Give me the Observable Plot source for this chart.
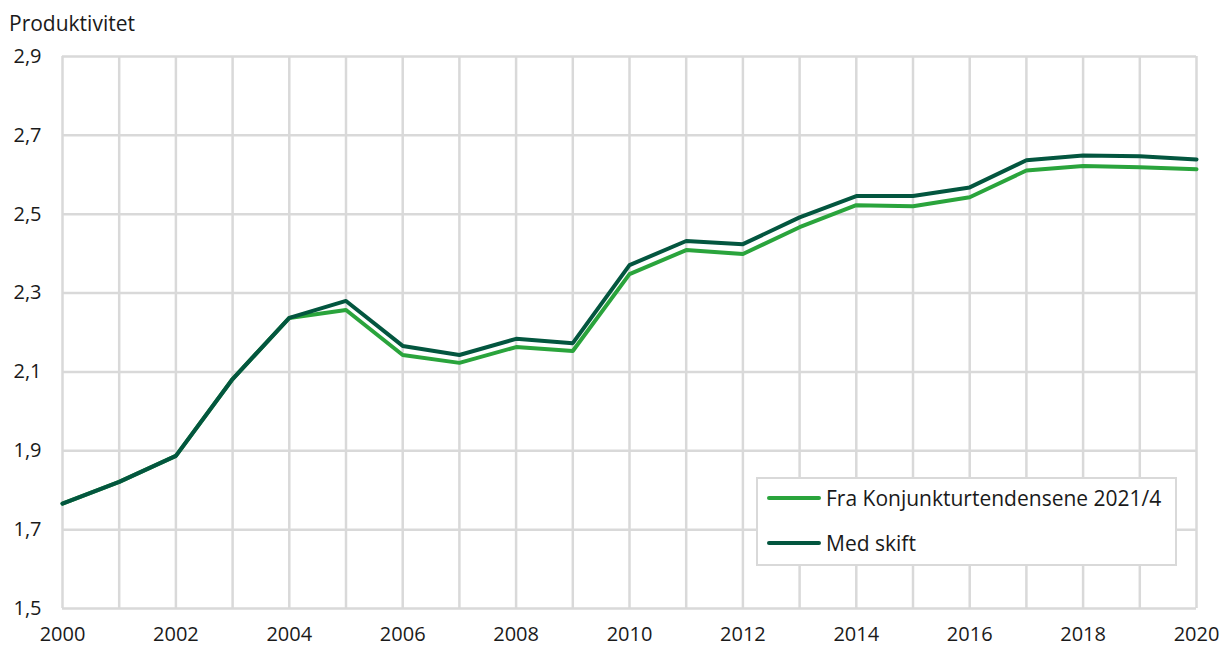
<!DOCTYPE html>
<html>
<head>
<meta charset="utf-8">
<script src="https://cdn.jsdelivr.net/npm/d3@7"></script>
<script src="https://cdn.jsdelivr.net/npm/@observablehq/plot@0.6"></script>
<style>
  body { margin: 0; background: #fff; font-family: "Open Sans", sans-serif; }
  #wrap { position: relative; width: 1223px; height: 651px; }
  #title { position: absolute; left: 9px; top: 9px; font-size: 21px; color: #1a1a1a; line-height: 28px; }
  #chart { position: absolute; left: 0; top: 40px; }
  #legend { position: absolute; left: 756px; top: 477px; width: 421px; height: 89px;
            border: 2px solid #d9d9d9; background: #fff; box-sizing: border-box; font-size: 21px; color: #1a1a1a; }
  .item { position: absolute; left: 9px; display: flex; align-items: center; height: 28px; }
  .sw { width: 54px; height: 4px; border-radius: 2px; margin-right: 5px; }
</style>
</head>
<body>
<div id="wrap">
  <div id="title">Produktivitet</div>
  <div id="chart"></div>
  <div id="legend">
    <div class="item" style="top:5px"><div class="sw" style="background:#2aa43c"></div><span>Fra Konjunkturtendensene 2021/4</span></div>
    <div class="item" style="top:50px"><div class="sw" style="background:#03563f"></div><span>Med skift</span></div>
  </div>
</div>
<script>
const years = d3.range(2000, 2021);
const fraKonjunktur = [1.766, 1.821, 1.887, 2.082, 2.237, 2.257, 2.143, 2.123, 2.163, 2.153, 2.348, 2.409, 2.399, 2.467, 2.523, 2.520, 2.543, 2.611, 2.622, 2.619, 2.614];
const medSkift      = [1.766, 1.821, 1.887, 2.082, 2.237, 2.280, 2.166, 2.143, 2.184, 2.173, 2.371, 2.432, 2.424, 2.492, 2.546, 2.546, 2.568, 2.637, 2.649, 2.647, 2.639];
const yTicks = [1.5, 1.7, 1.9, 2.1, 2.3, 2.5, 2.7, 2.9];
const xTicks = d3.range(2000, 2021, 2);

const dataA = years.map((y, i) => ({year: y, value: fraKonjunktur[i]}));
const dataB = years.map((y, i) => ({year: y, value: medSkift[i]}));

const fmt = d => d.toFixed(1).replace(".", ",");

const chart = Plot.plot({
  width: 1223,
  height: 611,
  marginLeft: 62,
  marginRight: 27,
  marginTop: 16,
  marginBottom: 43,
  style: {fontFamily: "Open Sans", fontSize: "20px", color: "#1a1a1a", background: "#fff", overflow: "visible"},
  x: {domain: [2000, 2020], label: null},
  y: {domain: [1.5, 2.9], label: null},
  marks: [
    Plot.gridX(years, {stroke: "#d9d9d9", strokeOpacity: 1, strokeWidth: 2.5}),
    Plot.gridY(yTicks, {stroke: "#d9d9d9", strokeOpacity: 1, strokeWidth: 2.5}),
    Plot.axisX(xTicks, {tickSize: 0, tickPadding: 18, tickFormat: d => String(d), fontSize: 20, label: null}),
    Plot.axisY(yTicks, {tickSize: 0, tickPadding: 21, tickFormat: fmt, fontSize: 20, label: null}),
    Plot.line(dataA, {x: "year", y: "value", stroke: "#2aa43c", strokeWidth: 4}),
    Plot.line(dataB, {x: "year", y: "value", stroke: "#03563f", strokeWidth: 4})
  ]
});
document.getElementById("chart").appendChild(chart);
</script>
</body>
</html>
